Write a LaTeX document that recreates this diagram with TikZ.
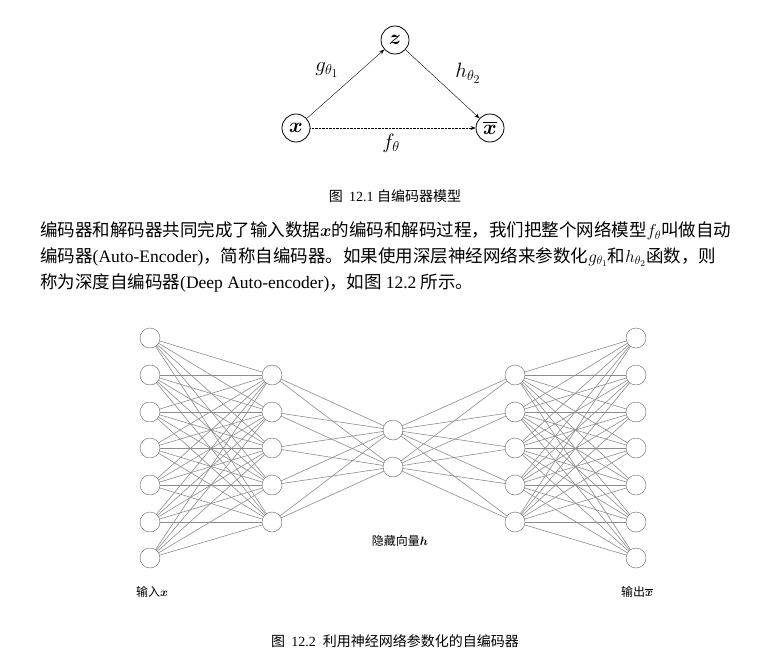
\documentclass[tikz,border=0pt]{standalone}
\usepackage{amsmath,bm}
\usepackage{fontspec}
\setmainfont{Liberation Serif}
\newfontfamily\cjk{Noto Sans CJK SC}
\usetikzlibrary{arrows.meta}
\begin{document}
\begin{tikzpicture}[x=1pt,y=-1pt,
  tri/.style={circle,draw,thick,minimum size=28pt,inner sep=0pt,font=\huge},
  nn/.style={circle,draw=black!60,fill=white,minimum size=20pt,inner sep=0pt},
  wire/.style={draw=black!45,line width=0.6pt},
  para/.style={anchor=west,inner sep=0pt,font=\fontsize{17.5}{20}\selectfont}]
\useasboundingbox (0,0) rectangle (758,653);
\node[tri] (z) at (395,40) {$\bm{z}$};
\node[tri] (x) at (296,128) {$\bm{x}$};
\node[tri] (xb) at (490,128) {$\overline{\bm{x}}$};
\draw[-{Stealth[length=5pt]}] (x) -- (z);
\draw[-{Stealth[length=5pt]}] (z) -- (xb);
\draw[densely dotted,-{Stealth[length=5pt]}] (x) -- (xb);
\node (g) at (327,70) {\huge $g_{\theta_1}$};
\node (h) at (468,73) {\huge $h_{\theta_2}$};
\node (f) at (391,143) {\huge $f_{\theta}$};
\node (c1) at (395,196) {\fontsize{14}{16}\selectfont\cjk 图\ \ \rmfamily 12.1\ \cjk 自编码器模型};
\node[para] (p1) at (40,231) {\cjk 编码器和解码器共同完成了输入数据$\bm{x}$的编码和解码过程，我们把整个网络模型$f_\theta$叫做自动};
\node[para] (p2) at (40,257) {\cjk 编码器\rmfamily(Auto-Encoder)\cjk ，简称自编码器。如果使用深层神经网络来参数化$g_{\theta_1}$和$h_{\theta_2}$函数，则};
\node[para] (p3) at (40,283) {\cjk 称为深度自编码器\rmfamily(Deep Auto-encoder)\cjk ，如图\ \rmfamily 12.2 \cjk 所示。};
% network
\foreach \i/\y in {1/338,2/375,3/412,4/448,5/485,6/522,7/558}{
  \coordinate (A\i) at (150,\y); \coordinate (E\i) at (636,\y);}
\foreach \i/\y in {1/375,2/412,3/448,4/485,5/522}{
  \coordinate (B\i) at (272,\y); \coordinate (D\i) at (515,\y);}
\foreach \i/\y in {1/430,2/467}{\coordinate (C\i) at (393,\y);}
\foreach \i in {1,...,7}{\foreach \j in {1,...,5}{
  \draw[wire] (A\i) -- (B\j); \draw[wire] (E\i) -- (D\j);}}
\foreach \i in {1,...,5}{\foreach \j in {1,2}{
  \draw[wire] (B\i) -- (C\j); \draw[wire] (D\i) -- (C\j);}}
\foreach \i in {1,...,7}{\node[nn] (a\i) at (A\i) {}; \node[nn] (e\i) at (E\i) {};}
\foreach \i in {1,...,5}{\node[nn] (b\i) at (B\i) {}; \node[nn] (d\i) at (D\i) {};}
\foreach \i in {1,2}{\node[nn] (c\i) at (C\i) {};}
\node (lh) at (400,541) {\fontsize{12}{14}\selectfont\cjk 隐藏向量$\bm{h}$};
\node (li) at (152,592) {\fontsize{12}{14}\selectfont\cjk 输入$\bm{x}$};
\node (lo) at (637,592) {\fontsize{12}{14}\selectfont\cjk 输出$\overline{\bm{x}}$};
\node (c2) at (395,641) {\fontsize{14}{16}\selectfont\cjk 图\ \ \rmfamily 12.2\ \ \cjk 利用神经网络参数化的自编码器};
\end{tikzpicture}
\end{document}
